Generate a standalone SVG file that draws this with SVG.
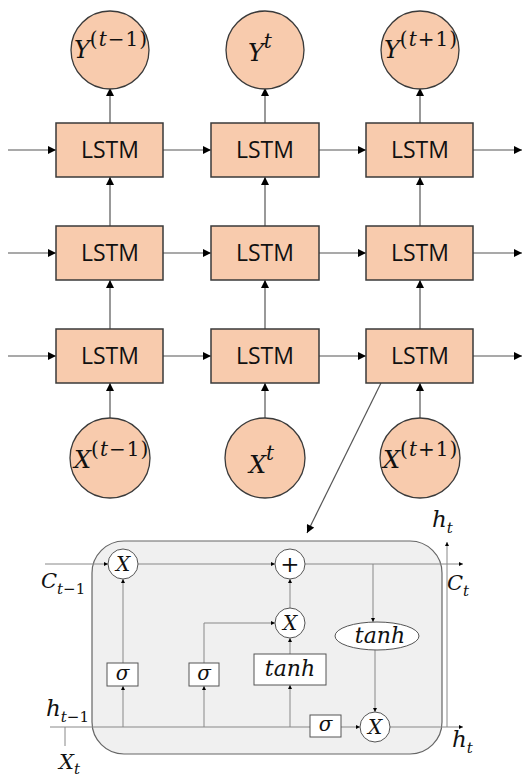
<svg xmlns="http://www.w3.org/2000/svg" width="526" height="777" viewBox="0 0 526 777">
<defs>
<marker id="ab" viewBox="0 0 10 10" refX="10" refY="5" markerWidth="9" markerHeight="8" markerUnits="userSpaceOnUse" orient="auto"><path d="M0,0 L10,5 L0,10 Z" fill="#000"/></marker>
<marker id="as" viewBox="0 0 10 10" refX="10" refY="5" markerWidth="5" markerHeight="4" markerUnits="userSpaceOnUse" orient="auto"><path d="M0,0 L10,5 L0,10 Z" fill="#000"/></marker>
</defs>
<style>
.box{fill:#F8CBAD;stroke:#3a3a3a;stroke-width:1.5}
.circ{fill:#F8CBAD;stroke:#3a3a3a;stroke-width:1.3}
.lbl{font-family:"Open Sans","Liberation Sans",sans-serif;font-size:23px;fill:#111;text-anchor:middle}
.m{font-family:"DejaVu Serif","Liberation Serif",serif;font-style:italic;fill:#111}
.up{font-style:normal}
.sup{font-size:20px;letter-spacing:1px}
.con line,.con path{stroke:#555;stroke-width:1.2;fill:none}
.cl line,.cl path{stroke:#888;stroke-width:1;fill:none}
.g{fill:#fff;stroke:#555;stroke-width:1}
</style>
<rect width="526" height="777" fill="#fff"/>

<g class="con">
<line x1="8" y1="150" x2="56" y2="150" marker-end="url(#ab)"/>
<line x1="163" y1="150" x2="211" y2="150" marker-end="url(#ab)"/>
<line x1="319" y1="150" x2="366" y2="150" marker-end="url(#ab)"/>
<line x1="473" y1="150" x2="522" y2="150" marker-end="url(#ab)"/>
<line x1="8" y1="253" x2="56" y2="253" marker-end="url(#ab)"/>
<line x1="163" y1="253" x2="211" y2="253" marker-end="url(#ab)"/>
<line x1="319" y1="253" x2="366" y2="253" marker-end="url(#ab)"/>
<line x1="473" y1="253" x2="522" y2="253" marker-end="url(#ab)"/>
<line x1="8" y1="356" x2="56" y2="356" marker-end="url(#ab)"/>
<line x1="163" y1="356" x2="211" y2="356" marker-end="url(#ab)"/>
<line x1="319" y1="356" x2="366" y2="356" marker-end="url(#ab)"/>
<line x1="473" y1="356" x2="522" y2="356" marker-end="url(#ab)"/>
<line x1="110" y1="123" x2="110" y2="88" marker-end="url(#ab)"/>
<line x1="265" y1="123" x2="265" y2="88" marker-end="url(#ab)"/>
<line x1="420" y1="123" x2="420" y2="88" marker-end="url(#ab)"/>
<line x1="110" y1="226" x2="110" y2="177" marker-end="url(#ab)"/>
<line x1="265" y1="226" x2="265" y2="177" marker-end="url(#ab)"/>
<line x1="420" y1="226" x2="420" y2="177" marker-end="url(#ab)"/>
<line x1="110" y1="329" x2="110" y2="280" marker-end="url(#ab)"/>
<line x1="265" y1="329" x2="265" y2="280" marker-end="url(#ab)"/>
<line x1="420" y1="329" x2="420" y2="280" marker-end="url(#ab)"/>
<line x1="110" y1="418" x2="110" y2="383" marker-end="url(#ab)"/>
<line x1="265" y1="418" x2="265" y2="383" marker-end="url(#ab)"/>
<line x1="420" y1="418" x2="420" y2="383" marker-end="url(#ab)"/>
<line x1="381" y1="383" x2="307" y2="533" marker-end="url(#ab)"/>
</g>

<g id="y1"><circle class="circ" cx="110" cy="50" r="39"/><text class="m" x="74" y="58" font-size="24">Y<tspan class="sup up" dy="-12">(</tspan><tspan class="sup">t</tspan><tspan class="sup up">−1)</tspan></text></g>
<g id="y2"><circle class="circ" cx="265" cy="50" r="39"/><text class="m" x="248" y="61" font-size="24">Y<tspan class="sup" dy="-13">t</tspan></text></g>
<g id="y3"><circle class="circ" cx="420" cy="50" r="39"/><text class="m" x="384" y="58" font-size="24">Y<tspan class="sup up" dy="-12">(</tspan><tspan class="sup">t</tspan><tspan class="sup up">+1)</tspan></text></g>

<g id="l11"><rect class="box" x="56" y="123" width="107" height="54"/><text class="lbl" x="110" y="158">LSTM</text></g>
<g id="l12"><rect class="box" x="211" y="123" width="108" height="54"/><text class="lbl" x="265" y="158">LSTM</text></g>
<g id="l13"><rect class="box" x="366" y="123" width="107" height="54"/><text class="lbl" x="420" y="158">LSTM</text></g>
<g id="l21"><rect class="box" x="56" y="226" width="107" height="54"/><text class="lbl" x="110" y="261">LSTM</text></g>
<g id="l22"><rect class="box" x="211" y="226" width="108" height="54"/><text class="lbl" x="265" y="261">LSTM</text></g>
<g id="l23"><rect class="box" x="366" y="226" width="107" height="54"/><text class="lbl" x="420" y="261">LSTM</text></g>
<g id="l31"><rect class="box" x="56" y="329" width="107" height="54"/><text class="lbl" x="110" y="364">LSTM</text></g>
<g id="l32"><rect class="box" x="211" y="329" width="108" height="54"/><text class="lbl" x="265" y="364">LSTM</text></g>
<g id="l33"><rect class="box" x="366" y="329" width="107" height="54"/><text class="lbl" x="420" y="364">LSTM</text></g>

<g id="x1"><circle class="circ" cx="110" cy="458" r="40"/><text class="m" x="74" y="468" font-size="24">X<tspan class="sup up" dy="-12">(</tspan><tspan class="sup">t</tspan><tspan class="sup up">−1)</tspan></text></g>
<g id="x2"><circle class="circ" cx="265" cy="458" r="40"/><text class="m" x="249" y="473" font-size="24">X<tspan class="sup" dy="-13">t</tspan></text></g>
<g id="x3"><circle class="circ" cx="420" cy="458" r="40"/><text class="m" x="383" y="468" font-size="24">X<tspan class="sup up" dy="-12">(</tspan><tspan class="sup">t</tspan><tspan class="sup up">+1)</tspan></text></g>

<g id="cell">
<rect x="92" y="541" width="350" height="213" rx="32" ry="32" fill="#f0f0f0" stroke="#666" stroke-width="1.2"/>
</g>

<g class="cl">
<line x1="45" y1="564" x2="108" y2="564" marker-end="url(#as)"/>
<line x1="138" y1="564" x2="275" y2="564" marker-end="url(#as)"/>
<line x1="305" y1="564" x2="463" y2="564" marker-end="url(#as)"/>
<line x1="50" y1="727" x2="310" y2="727"/>
<line x1="341" y1="727" x2="360" y2="727" marker-end="url(#as)"/>
<line x1="390" y1="727" x2="463" y2="727" marker-end="url(#as)"/>
<line x1="447" y1="727" x2="447" y2="542" marker-end="url(#as)"/>
<line x1="65" y1="727" x2="65" y2="746"/>
<line x1="123" y1="727" x2="123" y2="686" marker-end="url(#as)"/>
<line x1="123" y1="663" x2="123" y2="579" marker-end="url(#as)"/>
<line x1="204" y1="727" x2="204" y2="686" marker-end="url(#as)"/>
<path d="M204,663 V623 H275" marker-end="url(#as)"/>
<line x1="290" y1="727" x2="290" y2="685" marker-end="url(#as)"/>
<line x1="290" y1="654" x2="290" y2="638" marker-end="url(#as)"/>
<line x1="290" y1="608" x2="290" y2="579" marker-end="url(#as)"/>
<line x1="373" y1="564" x2="373" y2="622" marker-end="url(#as)"/>
<line x1="375" y1="650" x2="375" y2="712" marker-end="url(#as)"/>
</g>

<g id="mx1"><circle class="g" cx="123" cy="564" r="15"/><text class="m" x="123" y="571" font-size="20" text-anchor="middle">X</text></g>
<g id="plus"><circle class="g" cx="290" cy="564" r="15"/><text x="290" y="572" font-size="23" text-anchor="middle" font-family="DejaVu Serif,serif" fill="#111">+</text></g>
<g id="mx2"><circle class="g" cx="290" cy="623" r="15"/><text class="m" x="290" y="630" font-size="20" text-anchor="middle">X</text></g>
<g id="mx3"><circle class="g" cx="375" cy="727" r="15"/><text class="m" x="375" y="734" font-size="20" text-anchor="middle">X</text></g>
<g id="s1"><rect class="g" x="107" y="663" width="31" height="23"/><text class="m" x="122.5" y="680" font-size="20" text-anchor="middle">σ</text></g>
<g id="s2"><rect class="g" x="189" y="663" width="30" height="23"/><text class="m" x="204" y="680" font-size="20" text-anchor="middle">σ</text></g>
<g id="s3"><rect class="g" x="310" y="715" width="31" height="22"/><text class="m" x="325.5" y="731" font-size="20" text-anchor="middle">σ</text></g>
<g id="th1"><rect class="g" x="254" y="654" width="72" height="31"/><text class="m" x="290" y="676" font-size="22" text-anchor="middle">tanh</text></g>
<g id="th2"><ellipse class="g" cx="377" cy="636" rx="42" ry="14"/><text class="m" x="380" y="643" font-size="22" text-anchor="middle">tanh</text></g>

<g id="labels">
<text class="m" x="41" y="588" font-size="21">C<tspan font-size="15" dy="6">t</tspan><tspan font-size="15" class="up">−1</tspan></text>
<text class="m" x="447" y="590" font-size="21">C<tspan font-size="15" dy="6">t</tspan></text>
<text class="m" x="46" y="716" font-size="23">h<tspan font-size="15" dy="6">t</tspan><tspan font-size="15" class="up">−1</tspan></text>
<text class="m" x="452" y="747" font-size="23">h<tspan font-size="15" dy="6">t</tspan></text>
<text class="m" x="432" y="527" font-size="23">h<tspan font-size="15" dy="6">t</tspan></text>
<text class="m" x="59" y="769" font-size="21">X<tspan font-size="15" dy="5">t</tspan></text>
</g>
</svg>
